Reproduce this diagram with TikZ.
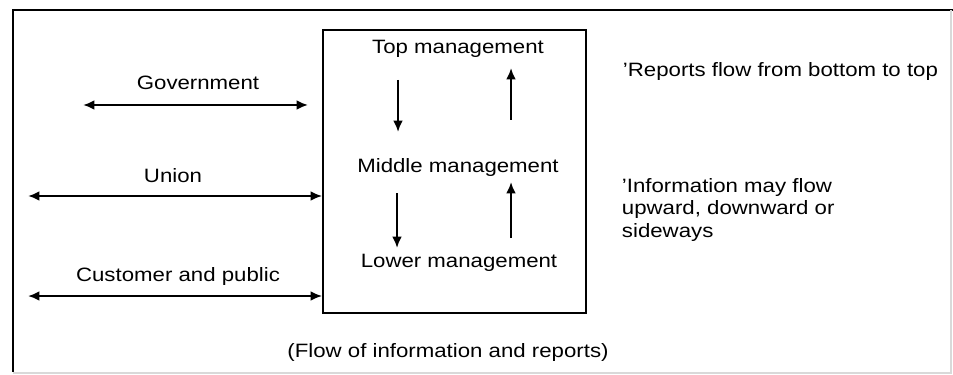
\documentclass[tikz,border=0pt]{standalone}
\usepackage{fontspec}
\setmainfont{Liberation Sans}[FakeStretch=1.15]
\usetikzlibrary{arrows.meta}
\usetikzlibrary{positioning}

\begin{document}
\begin{tikzpicture}[x=0.02cm,y=-0.02cm,>={Latex[length=6.5pt,width=5.5pt]},line width=1.1pt,
	txt node/.style={font=\fontsize{11}{13}\selectfont,inner sep=0pt},
	note node/.style={txt node,align=left,anchor=west}]
	
	\useasboundingbox (0,0) rectangle (953,375);
	
	% outer frame
	\draw (953,10) -- (13,10) -- (13,372);
	\draw[gray!30,line width=0.6pt] (13,373) -- (951,373) -- (951,10);
	
	% management box
	\node[draw,minimum width=5.26cm,minimum height=5.66cm] (box) at (454.5,171.5) {};
	
	\node[txt node] (top) at (458,49) {Top management};
	\node[txt node] (mid) at (458,168) {Middle management};
	\node[txt node] (low) at (459,263) {Lower management};
	
	\node[txt node] (gov) at (198,82.5) {Government};
	\node[txt node] (union) at (173,175.5) {Union};
	\node[txt node] (cust) at (178,276.5) {Customer and public};
	
	\node[note node] (rep) at (622,71.5) {'Reports flow from bottom to top};
	\node[note node] (info) at (621,210) {'Information may flow\\upward, downward or\\sideways};
	
	\node[txt node] (flow) at (448,352) {(Flow of information and reports)};
	
	% free ends of the connectors
	\coordinate (gl) at (83,105);
	\coordinate (gr) at (308,105);
	\coordinate (ul) at (28,196);
	\coordinate (cl) at (28,296);
	\coordinate (d1) at (398,80);
	\coordinate (d2) at (398,132);
	\coordinate (u1) at (511,120);
	\coordinate (u2) at (511,68);
	\coordinate (d3) at (397,193);
	\coordinate (d4) at (397,248);
	\coordinate (u3) at (511,238);
	\coordinate (u4) at (511,182);
	
	\path[<->]
	(gl) edge (gr)
	(ul) edge (ul -| box.west)
	(cl) edge (cl -| box.west);
	
	\path[->]
	(d1) edge (d2)
	(u1) edge (u2)
	(d3) edge (d4)
	(u3) edge (u4);
\end{tikzpicture}
\end{document}
